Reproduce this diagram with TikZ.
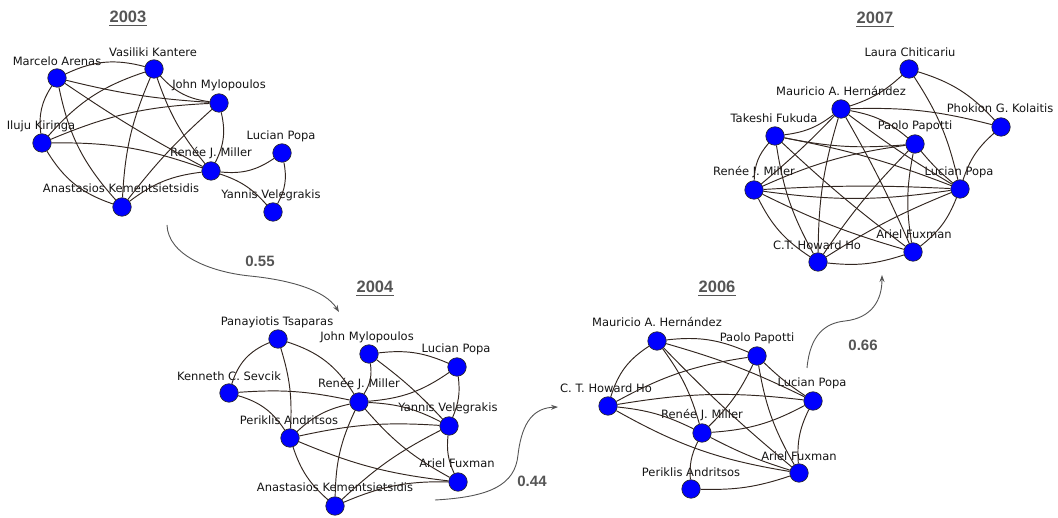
\documentclass[tikz,border=0pt]{standalone}
\usepackage{fontspec}
\setmainfont{DejaVu Sans}
\newfontfamily\titlefont{Liberation Sans}
\usetikzlibrary{arrows.meta}
\definecolor{edgec}{RGB}{50,38,32}
\definecolor{nodeb}{RGB}{0,0,255}
\definecolor{titleg}{RGB}{85,85,85}
\begin{document}
\begin{tikzpicture}[x=1pt,y=1pt,
  person/.style={circle,draw=black!85,fill=nodeb,line width=0.6pt,minimum size=18.5pt,inner sep=0pt},
  plabel/.style={font=\fontsize{11.5}{12}\selectfont,text=black!92,inner sep=0pt},
  link/.style={draw=edgec,line width=0.95pt},
  yeartitle/.style={font=\titlefont\bfseries\fontsize{16.5}{18}\selectfont,text=titleg,inner sep=0pt},
  score/.style={font=\titlefont\bfseries\fontsize{15}{16}\selectfont,text=titleg,inner sep=0pt},
  flow/.style={draw=titleg,line width=0.9pt,-{Stealth[length=7pt,width=5pt]}},
  uline/.style={draw=titleg,line width=1.3pt},
]
\useasboundingbox (0,0) rectangle (1058,-518);

% ---------- titles ----------
\node[yeartitle] (t03) at (128,-17) {2003};
\node[yeartitle] (t04) at (375,-287) {2004};
\node[yeartitle] (t06) at (717,-287) {2006};
\node[yeartitle] (t07) at (875,-18) {2007};
\foreach \t in {t03,t04,t06,t07}
  \draw[uline] ([yshift=-2.5pt]\t.south west) -- ([yshift=-2.5pt]\t.south east);

% ---------- 2003 ----------
\node[plabel] (a1l) at (57,-61) {Marcelo Arenas};
\node[plabel] (a2l) at (153,-52) {Vasiliki Kantere};
\node[plabel] (a3l) at (219,-85) {John Mylopoulos};
\node[plabel] (a4l) at (41,-126) {Iluju Kiringa};
\node[plabel] (a5l) at (211,-153) {Renée J. Miller};
\node[plabel] (a6l) at (281,-136) {Lucian Popa};
\node[plabel] (a7l) at (121,-188) {Anastasios Kementsietsidis};
\node[plabel] (a8l) at (271,-195) {Yannis Velegrakis};
\node[person] (a1) at (57,-78) {};
\node[person] (a2) at (154,-69) {};
\node[person] (a3) at (219,-103) {};
\node[person] (a4) at (42,-143) {};
\node[person] (a5) at (211,-171) {};
\node[person] (a6) at (282,-153) {};
\node[person] (a7) at (122,-207) {};
\node[person] (a8) at (273,-212) {};
\draw[link] (a1) to[bend left=20] (a2);
\draw[link] (a1) to[bend right=20] (a4);
\draw[link] (a1) to[bend right=5] (a3);
\draw[link] (a1) to[bend right=3] (a5);
\draw[link] (a1) to[bend right=15] (a7);
\draw[link] (a2) to[bend right=20] (a3);
\draw[link] (a2) to[bend right=15] (a4);
\draw[link] (a2) to[bend right=10] (a5);
\draw[link] (a2) to[bend right=10] (a7);
\draw[link] (a3) to[bend right=10] (a4);
\draw[link] (a3) to[bend left=20] (a5);
\draw[link] (a3) to[bend right=5] (a7);
\draw[link] (a4) to[bend left=10] (a5);
\draw[link] (a4) to[bend right=20] (a7);
\draw[link] (a5) to[bend right=15] (a7);
\draw[link] (a5) to[bend right=20] (a6);
\draw[link] (a5) to[bend left=15] (a8);
\draw[link] (a6) to[bend left=20] (a8);

% ---------- 2004 ----------
\node[plabel] (b1l) at (277,-322) {Panayiotis Tsaparas};
\node[plabel] (b2l) at (367,-337) {John Mylopoulos};
\node[plabel] (b3l) at (456,-349) {Lucian Popa};
\node[plabel] (b4l) at (229,-376) {Kenneth C. Sevcik};
\node[plabel] (b5l) at (359,-384) {Renée J. Miller};
\node[plabel] (b6l) at (448,-408) {Yannis Velegrakis};
\node[plabel] (b7l) at (289,-420) {Periklis Andritsos};
\node[plabel] (b8l) at (457,-463) {Ariel Fuxman};
\node[plabel] (b9l) at (335,-487) {Anastasios Kementsietsidis};
\node[person] (b1) at (278,-339) {};
\node[person] (b2) at (369,-354) {};
\node[person] (b3) at (457,-367) {};
\node[person] (b4) at (229,-393) {};
\node[person] (b5) at (359,-402) {};
\node[person] (b6) at (449,-426) {};
\node[person] (b7) at (290,-438) {};
\node[person] (b8) at (458,-482) {};
\node[person] (b9) at (335,-506) {};
\draw[link] (b1) to[bend right=25] (b4);
\draw[link] (b1) to[bend left=10] (b7);
\draw[link] (b1) to[bend left=20] (b5);
\draw[link] (b4) to[bend left=8] (b5);
\draw[link] (b4) to[bend left=20] (b7);
\draw[link] (b7) to[bend left=15] (b5);
\draw[link] (b7) to[bend left=8] (b6);
\draw[link] (b7) to[bend right=8] (b8);
\draw[link] (b7) to[bend right=15] (b9);
\draw[link] (b2) to[bend left=20] (b5);
\draw[link] (b2) to[bend left=15] (b3);
\draw[link] (b2) to[bend left=5] (b6);
\draw[link] (b3) to[bend left=15] (b5);
\draw[link] (b3) to[bend left=15] (b6);
\draw[link] (b5) to[bend left=12] (b6);
\draw[link] (b5) to[bend right=10] (b8);
\draw[link] (b5) to[bend right=12] (b9);
\draw[link] (b6) to[bend right=15] (b8);
\draw[link] (b6) to[bend right=8] (b9);
\draw[link] (b9) to[bend left=12] (b8);

% ---------- 2006 ----------
\node[plabel] (c1l) at (657,-322) {Mauricio A. Hernández};
\node[plabel] (c2l) at (757,-338) {Paolo Papotti};
\node[plabel] (c3l) at (606,-388) {C. T. Howard Ho};
\node[plabel] (c4l) at (812,-383) {Lucian Popa};
\node[plabel] (c5l) at (702,-415) {Renée J. Miller};
\node[plabel] (c6l) at (799,-456) {Ariel Fuxman};
\node[plabel] (c7l) at (691,-472) {Periklis Andritsos};
\node[person] (c1) at (657,-341) {};
\node[person] (c2) at (757,-356) {};
\node[person] (c3) at (608,-406) {};
\node[person] (c4) at (813,-401) {};
\node[person] (c5) at (702,-433) {};
\node[person] (c6) at (799,-473) {};
\node[person] (c7) at (691,-489) {};
\draw[link] (c1) to[bend left=15] (c2);
\draw[link] (c1) to[bend right=20] (c3);
\draw[link] (c1) to[bend left=5] (c4);
\draw[link] (c1) to[bend left=10] (c5);
\draw[link] (c1) to[bend right=3] (c6);
\draw[link] (c2) to[bend right=10] (c3);
\draw[link] (c2) to[bend left=10] (c5);
\draw[link] (c2) to[bend right=5] (c4);
\draw[link] (c2) to[bend right=10] (c6);
\draw[link] (c3) to[bend left=8] (c4);
\draw[link] (c3) to[bend left=10] (c5);
\draw[link] (c3) to[bend right=10] (c6);
\draw[link] (c5) to[bend right=12] (c4);
\draw[link] (c5) to[bend right=5] (c6);
\draw[link] (c5) to[bend right=15] (c7);
\draw[link] (c4) to[bend right=15] (c6);
\draw[link] (c7) to[bend right=10] (c6);

% ---------- 2007 ----------
\node[plabel] (d1l) at (910,-52) {Laura Chiticariu};
\node[plabel] (d2l) at (841,-91) {Mauricio A. Hernández};
\node[plabel] (d3l) at (1000,-108) {Phokion G. Kolaitis};
\node[plabel] (d4l) at (774,-118) {Takeshi Fukuda};
\node[plabel] (d5l) at (915,-126) {Paolo Papotti};
\node[plabel] (d6l) at (754,-172) {Renée J. Miller};
\node[plabel] (d7l) at (959,-172) {Lucian Popa};
\node[plabel] (d8l) at (817,-245) {C.T. Howard Ho};
\node[plabel] (d9l) at (914,-234) {Ariel Fuxman};
\node[person] (d1) at (909,-69) {};
\node[person] (d2) at (841,-109) {};
\node[person] (d3) at (1001,-127) {};
\node[person] (d4) at (775,-136) {};
\node[person] (d5) at (915,-144) {};
\node[person] (d6) at (754,-190) {};
\node[person] (d7) at (960,-189) {};
\node[person] (d8) at (818,-262) {};
\node[person] (d9) at (913,-252) {};
\draw[link] (d1) to[bend left=12] (d2);
\draw[link] (d1) to[bend left=15] (d3);
\draw[link] (d1) to[bend left=10] (d7);
\draw[link] (d2) to[bend left=8] (d3);
\draw[link] (d2) to[bend left=15] (d4);
\draw[link] (d2) to[bend left=15] (d5);
\draw[link] (d2) to[bend left=3] (d6);
\draw[link] (d2) to[bend right=3] (d7);
\draw[link] (d2) to[bend right=8] (d8);
\draw[link] (d2) to[bend left=3] (d9);
\draw[link] (d3) to[bend right=15] (d7);
\draw[link] (d4) to[bend right=8] (d5);
\draw[link] (d4) to[bend right=20] (d6);
\draw[link] (d4) to[bend left=5] (d7);
\draw[link] (d4) to[bend right=10] (d8);
\draw[link] (d4) to[bend right=3] (d9);
\draw[link] (d5) to[bend right=8] (d6);
\draw[link] (d5) to[bend right=5] (d7);
\draw[link] (d5) to[bend right=5] (d8);
\draw[link] (d5) to[bend right=10] (d9);
\draw[link] (d6) to[bend left=3] (d7);
\draw[link] (d6) to[bend right=8] (d7);
\draw[link] (d6) to[bend right=15] (d8);
\draw[link] (d6) to[bend right=5] (d9);
\draw[link] (d7) to[bend right=5] (d8);
\draw[link] (d7) to[bend left=15] (d9);
\draw[link] (d8) to[bend right=12] (d9);

% ---------- transitions ----------
\node[score] (s1) at (260,-261) {0.55};
\node[score] (s2) at (532,-481) {0.44};
\node[score] (s3) at (863,-345) {0.66};
\coordinate (f1s) at (167,-225);
\coordinate (f1m) at (250,-276);
\coordinate (f1e) at (339,-312);
\draw[flow] (f1s) .. controls (168,-255) and (210,-272) .. (f1m) .. controls (290,-280) and (325,-290) .. (f1e);
\coordinate (f2s) at (435,-500);
\coordinate (f2m) at (518,-455);
\coordinate (f2e) at (558,-407);
\draw[flow] (f2s) .. controls (490,-497) and (515,-485) .. (f2m) .. controls (522,-420) and (535,-408) .. (f2e);
\coordinate (f3s) at (807,-368);
\coordinate (f3m) at (845,-321);
\coordinate (f3e) at (882,-275);
\draw[flow] (f3s) .. controls (810,-335) and (825,-323) .. (f3m) .. controls (872,-318) and (882,-300) .. (f3e);
\end{tikzpicture}
\end{document}
